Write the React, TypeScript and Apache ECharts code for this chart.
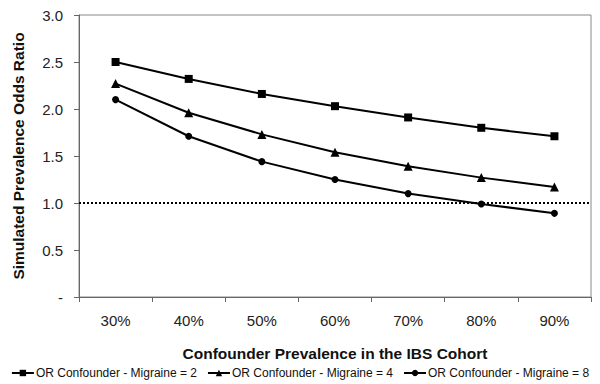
import React, { useEffect, useRef } from "react";
import * as echarts from "echarts";

const categories = ["30%", "40%", "50%", "60%", "70%", "80%", "90%"];
const seriesNames = [
  "OR Confounder - Migraine = 2",
  "OR Confounder - Migraine = 4",
  "OR Confounder - Migraine = 8",
];
const migraine2 = [2.5, 2.32, 2.16, 2.03, 1.91, 1.8, 1.71];
const migraine4 = [2.27, 1.96, 1.73, 1.54, 1.39, 1.27, 1.17];
const migraine8 = [2.1, 1.71, 1.44, 1.25, 1.1, 0.99, 0.89];
const referenceValue = 1.0;

const FONT = "Liberation Sans, Arial, sans-serif";

export default function App() {
  const ref = useRef<HTMLDivElement>(null);
  useEffect(() => {
    if (!ref.current) return;
    const chart = echarts.init(ref.current, null, { renderer: "svg" });
    const symbols = ["rect", "triangle", "circle"];
    const sizes = [8, 9, 7];
    const data = [migraine2, migraine4, migraine8];
    chart.setOption({
      animation: false,
      backgroundColor: "#fff",
      textStyle: { fontFamily: FONT },
      grid: {
        left: 79,
        right: 9,
        top: 15,
        bottom: 87,
        show: true,
        borderColor: "#888",
        borderWidth: 1,
      },
      legend: {
        bottom: 0,
        left: "center",
        itemWidth: 22,
        itemHeight: 8,
        itemGap: 10,
        textStyle: { fontFamily: FONT, fontSize: 12, color: "#111", padding: [0, 0, 0, -3] },
        data: seriesNames,
      },
      xAxis: {
        type: "category",
        data: categories,
        boundaryGap: true,
        name: "Confounder Prevalence in the IBS Cohort",
        nameLocation: "middle",
        nameGap: 48,
        nameTextStyle: { fontFamily: FONT, fontSize: 15.5, fontWeight: "bold", color: "#111" },
        axisLine: { lineStyle: { color: "#666" } },
        axisTick: { show: true, length: 5, lineStyle: { color: "#666" } },
        axisLabel: { fontFamily: FONT, fontSize: 15, color: "#222", margin: 16 },
      },
      yAxis: {
        type: "value",
        min: 0,
        max: 3,
        interval: 0.5,
        name: "Simulated Prevalence Odds Ratio",
        nameLocation: "middle",
        nameGap: 53,
        nameTextStyle: { fontFamily: FONT, fontSize: 15.5, fontWeight: "bold", color: "#111" },
        splitLine: { show: false },
        axisLine: { show: true, lineStyle: { color: "#666" } },
        axisTick: { show: true, length: 5, lineStyle: { color: "#666" } },
        axisLabel: {
          fontFamily: FONT,
          fontSize: 15,
          color: "#222",
          margin: 16,
          formatter: (v: number) => (v === 0 ? "-" : v.toFixed(1)),
        },
      },
      series: data.map((d, i) => ({
        name: seriesNames[i],
        type: "line",
        data: d,
        symbol: symbols[i],
        symbolSize: sizes[i],
        itemStyle: { color: "#000" },
        lineStyle: { color: "#000", width: 2 },
        markLine:
          i === 0
            ? {
                silent: true,
                symbol: "none",
                label: { show: false },
                lineStyle: { color: "#000", type: [2, 2], width: 2 },
                data: [{ yAxis: referenceValue }],
              }
            : undefined,
      })),
    });
    return () => chart.dispose();
  }, []);
  return <div ref={ref} style={{ width: 600, height: 384, marginLeft: -8, marginTop: -8 }} />;
}
